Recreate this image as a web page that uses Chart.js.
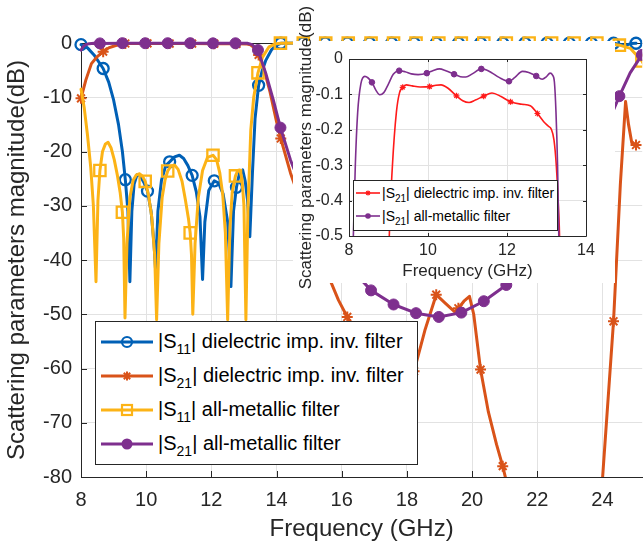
<!DOCTYPE html>
<html><head><meta charset="utf-8">
<script src="https://cdn.jsdelivr.net/npm/chart.js@4.4.1/dist/chart.umd.min.js"></script>
<style>
html,body{margin:0;padding:0;width:644px;height:550px;overflow:hidden;background:#fff;}
#wrap{position:relative;width:644px;height:550px;overflow:hidden;font-family:"Liberation Sans",Arial,Helvetica,sans-serif;}
#main{position:absolute;left:0;top:0;}
#inset{position:absolute;left:290px;top:0;}
.legend{position:absolute;background:#fff;border:1px solid #262626;box-sizing:border-box;}
.row{position:absolute;left:0;display:flex;align-items:center;white-space:nowrap;color:#000;}
.row svg{flex:none;display:block;}
.row sub{vertical-align:baseline;position:relative;line-height:0;}
#legMain .row{font-size:20px;height:34px;}
#legMain .row sub{font-size:14px;top:6px;}
#legInset .row{font-size:14px;height:22px;}
#legInset .row sub{font-size:10px;top:4px;}
</style></head>
<body><div id="wrap">
<canvas id="main" width="650" height="550"></canvas>
<canvas id="inset" width="330" height="290"></canvas>
<div id="legMain" class="legend" style="left:95px;top:321px;width:323px;height:144px;">
 <div class="row" style="top:2.5px"><svg width="62" height="34"><line x1="5" y1="17" x2="57" y2="17" stroke="#0060B6" stroke-width="3"/><circle cx="31" cy="17" r="5" fill="none" stroke="#0060B6" stroke-width="2.2"/></svg><span>|S<sub>11</sub>| dielectric imp. inv. filter</span></div>
 <div class="row" style="top:36.5px"><svg width="62" height="34"><line x1="5" y1="17" x2="57" y2="17" stroke="#D95319" stroke-width="3"/><path d="M26.5 17H35.5M31 12.5V21.5M27.8 13.8L34.2 20.2M34.2 13.8L27.8 20.2" stroke="#D95319" stroke-width="2"/></svg><span>|S<sub>21</sub>| dielectric imp. inv. filter</span></div>
 <div class="row" style="top:70.5px"><svg width="62" height="34"><line x1="5" y1="17" x2="57" y2="17" stroke="#FCB316" stroke-width="3"/><rect x="26" y="12" width="10" height="10" fill="none" stroke="#FCB316" stroke-width="2.2"/></svg><span>|S<sub>11</sub>| all-metallic filter</span></div>
 <div class="row" style="top:104.5px"><svg width="62" height="34"><line x1="5" y1="17" x2="57" y2="17" stroke="#7E2F8E" stroke-width="3"/><circle cx="31" cy="17" r="5.5" fill="#7E2F8E"/></svg><span>|S<sub>21</sub>| all-metallic filter</span></div>
</div>
<div id="legInset" class="legend" style="left:353px;top:180px;width:205px;height:51px;">
 <div class="row" style="top:0.7px"><svg width="28" height="22"><line x1="2" y1="11" x2="26" y2="11" stroke="#FF1A1A" stroke-width="1.6"/><path d="M11.5 11H16.5M14 8.5V13.5M12.2 9.2L15.8 12.8M15.8 9.2L12.2 12.8" stroke="#FF1A1A" stroke-width="1.2"/></svg><span>|S<sub>21</sub>| dielectric imp. inv. filter</span></div>
 <div class="row" style="top:24px"><svg width="28" height="22"><line x1="2" y1="11" x2="26" y2="11" stroke="#7E2F8E" stroke-width="1.6"/><circle cx="14" cy="11" r="2.8" fill="#7E2F8E"/></svg><span>|S<sub>21</sub>| all-metallic filter</span></div>
</div>
</div>
<script>
// ---------- data (frequency GHz, magnitude dB) ----------
const xTicks = [8, 10, 12, 14, 16, 18, 20, 22, 24];
const yTicks = [0, -10, -20, -30, -40, -50, -60, -70, -80];
const insetXTicks = [8, 10, 12, 14];
const insetYTicks = [0, -0.1, -0.2, -0.3, -0.4, -0.5];

const dielMarkerFreq = [8.00,8.68,9.36,10.04,10.72,11.41,12.09,12.77,13.45,14.13,14.81,15.49,16.17,16.85,17.53,18.22,18.90,19.58,20.26,20.94,21.62,22.30,22.98,23.66,24.34,25.03];
const metalMarkerFreq = [8.58,9.27,9.97,10.66,11.35,12.05,12.74,13.43,14.12,14.82,15.51,16.20,16.90,17.59,18.28,18.98,19.67,20.36,21.05,21.75,22.44,23.13,23.83,24.52,25.21];

const s11Diel = [[8.00,-0.3],[8.2,-0.9],[8.4,-2.2],[8.68,-4.7],[8.85,-7.2],[9.0,-10.5],[9.15,-15],[9.27,-20],[9.36,-25.2],[9.44,-31],[9.5,-44],[9.56,-31],[9.63,-26],[9.72,-24.3],[9.82,-24.5],[9.93,-25.7],[10.04,-27.3],[10.15,-31],[10.24,-37],[10.29,-42],[10.36,-31],[10.47,-25.3],[10.6,-22.6],[10.72,-21.9],[10.87,-21.0],[11.02,-20.7],[11.15,-21.3],[11.28,-22.6],[11.41,-24.4],[11.54,-27.5],[11.65,-32],[11.73,-43.6],[11.8,-33],[11.92,-27.2],[12.09,-25.4],[12.22,-25.8],[12.36,-27.8],[12.5,-33],[12.6,-44.9],[12.68,-31],[12.77,-26.6],[12.87,-23.8],[12.96,-23.4],[13.04,-25.5],[13.11,-29],[13.18,-35.7],[13.26,-24],[13.34,-14],[13.45,-7.8],[13.55,-5.3],[13.67,-3.2],[13.85,-1.2],[14.0,-0.4],[14.13,-0.05],[14.81,-0.02],[15.49,-0.02],[16.17,-0.02],[16.85,-0.02],[17.53,-0.02],[18.22,-0.02],[18.90,-0.02],[19.58,-0.02],[20.26,-0.02],[20.94,-0.02],[21.62,-0.02],[22.30,-0.02],[22.98,-0.02],[23.66,-0.02],[24.34,-0.05],[24.6,-0.3],[24.71,-0.45],[24.87,-0.1],[25.03,-0.05]];

const s21Diel = [[8.00,-10.2],[8.15,-6.8],[8.32,-3.8],[8.5,-2.5],[8.68,-1.6],[8.85,-0.9],[9.04,-0.5],[9.2,-0.25],[9.36,-0.09],[10.04,-0.08],[10.72,-0.1],[11.41,-0.11],[12.09,-0.12],[12.77,-0.15],[13.1,-0.2],[13.2,-0.35],[13.3,-0.8],[13.45,-2.2],[13.6,-4.5],[13.8,-9],[14.0,-14.5],[14.13,-17.6],[14.43,-24],[14.81,-30.5],[15.2,-37],[15.49,-41.5],[15.9,-47.4],[16.17,-50.5],[16.5,-54],[16.85,-57],[17.2,-60],[17.53,-62],[17.9,-63],[18.22,-60.5],[18.55,-53],[18.90,-46.4],[19.15,-47.8],[19.46,-49.5],[19.58,-48.9],[19.75,-47.6],[19.92,-46.7],[20.05,-50],[20.26,-60.2],[20.5,-68],[20.75,-74],[20.94,-78],[21.1,-82],[21.62,-90],[22.30,-97],[22.98,-99],[23.66,-90],[24.0,-80.5],[24.34,-51.3],[24.55,-26],[24.71,-10.8],[24.8,-15],[24.9,-18.4],[25.03,-18.8]];

const s11Metal = [[8.0,-8.5],[8.1,-12],[8.2,-17],[8.3,-23],[8.38,-30],[8.46,-44],[8.52,-29],[8.58,-23.5],[8.66,-20],[8.75,-18.6],[8.83,-18.3],[8.92,-19.3],[9.02,-21.5],[9.12,-24.5],[9.2,-27.5],[9.27,-31.2],[9.31,-36],[9.35,-50.7],[9.41,-37],[9.5,-28.5],[9.6,-25.3],[9.7,-24.3],[9.8,-24.1],[9.89,-24.6],[9.97,-25.5],[10.07,-28],[10.17,-32],[10.26,-39],[10.32,-51],[10.39,-37],[10.49,-28.5],[10.58,-25.2],[10.66,-23.6],[10.76,-22.7],[10.87,-22.5],[10.98,-23.3],[11.1,-25.5],[11.2,-28.8],[11.3,-32.5],[11.35,-35],[11.39,-39],[11.43,-50],[11.5,-37],[11.6,-28.5],[11.73,-23.5],[11.88,-21.1],[12.05,-20.7],[12.16,-21.5],[12.26,-24],[12.35,-28],[12.43,-35],[12.5,-51],[12.57,-34],[12.64,-27.5],[12.74,-24.5],[12.81,-23.5],[12.87,-23.4],[12.94,-25],[13.0,-30],[13.06,-51],[13.12,-31],[13.21,-16],[13.3,-10],[13.43,-5.5],[13.57,-2.6],[13.77,-0.7],[13.95,-0.2],[14.12,-0.03],[14.82,-0.02],[15.51,-0.02],[16.20,-0.02],[16.90,-0.02],[17.59,-0.02],[18.28,-0.02],[18.98,-0.02],[19.67,-0.02],[20.36,-0.02],[21.05,-0.02],[21.75,-0.02],[22.44,-0.02],[23.13,-0.02],[23.83,-0.02],[24.2,-0.1],[24.52,-0.4],[24.86,-1.0],[25.21,-3.3],[25.4,-5.5]];

const s21Metal = [[8.0,-1.3],[8.08,-0.6],[8.15,-0.3],[8.25,-0.12],[8.4,-0.05],[8.58,-0.07],[9.27,-0.03],[9.97,-0.04],[10.66,-0.04],[11.35,-0.03],[12.05,-0.06],[12.74,-0.05],[13.1,-0.05],[13.25,-0.3],[13.43,-1.3],[13.67,-5.6],[13.9,-10.5],[14.12,-15.6],[14.43,-21.6],[14.82,-27.5],[15.51,-35],[16.20,-41],[16.90,-45.6],[17.59,-48.2],[18.28,-49.8],[18.98,-50.5],[19.67,-49.7],[20.36,-47.6],[21.05,-44.6],[21.75,-40],[22.44,-34.5],[23.13,-27.5],[23.83,-19.5],[24.52,-9.8],[24.85,-5.5],[25.21,-2.2],[25.5,-0.8]];

const insetS21Diel = [[8.95,-0.9],[9.02,-0.5],[9.1,-0.3],[9.2,-0.15],[9.28,-0.095],[9.36,-0.08],[9.45,-0.073],[9.6,-0.076],[9.8,-0.079],[10.04,-0.078],[10.2,-0.074],[10.33,-0.073],[10.5,-0.082],[10.72,-0.104],[10.88,-0.118],[11.04,-0.123],[11.2,-0.116],[11.41,-0.105],[11.62,-0.096],[11.85,-0.106],[12.09,-0.121],[12.38,-0.128],[12.59,-0.132],[12.77,-0.154],[12.93,-0.177],[13.05,-0.19],[13.12,-0.198],[13.19,-0.229],[13.25,-0.304],[13.31,-0.437],[13.33,-0.5],[13.37,-0.8]];

const insetS21Metal = [[8.05,-0.9],[8.11,-0.5],[8.16,-0.3],[8.22,-0.15],[8.3,-0.07],[8.4,-0.049],[8.58,-0.066],[8.68,-0.088],[8.78,-0.101],[8.88,-0.095],[9.0,-0.07],[9.12,-0.043],[9.27,-0.033],[9.42,-0.036],[9.58,-0.042],[9.75,-0.044],[9.97,-0.04],[10.12,-0.033],[10.29,-0.028],[10.45,-0.033],[10.66,-0.043],[10.82,-0.05],[10.96,-0.051],[11.12,-0.042],[11.35,-0.028],[11.48,-0.031],[11.6,-0.038],[11.8,-0.052],[12.05,-0.063],[12.2,-0.052],[12.39,-0.035],[12.55,-0.038],[12.74,-0.048],[12.89,-0.057],[13.0,-0.05],[13.09,-0.04],[13.15,-0.045],[13.2,-0.065],[13.24,-0.15],[13.28,-0.3],[13.31,-0.49],[13.35,-0.8]];

// ---------- styling ----------
const FONT = '"Liberation Sans", Arial, Helvetica, sans-serif';
const AX = '#262626';
const GRID = '#e2e2e2';
const C = {blue:'#0060B6', orange:'#D95319', yellow:'#FCB316', purple:'#7E2F8E', red:'#FF1A1A'};

const toXY = arr => arr.map(p => ({x:p[0], y:p[1]}));
const isMarker = (list, x) => list.some(m => Math.abs(m - x) < 1e-6);

function series(pairs, color, style, markers, fill, r, pbw, bw, order, clip) {
  return {
    data: toXY(pairs), borderColor: color, borderWidth: bw, tension: 0,
    borderJoinStyle: 'round', borderCapStyle: 'round',
    pointStyle: style,
    pointRadius: ctx => (ctx.raw && isMarker(markers, ctx.raw.x)) ? r : 0,
    pointHoverRadius: 0, pointHitRadius: 0,
    pointBorderColor: color, pointBackgroundColor: fill, pointBorderWidth: pbw,
    order: order, clip: clip
  };
}
function fixedTicks(list){ return s => { s.ticks = list.map(v => ({value:v})); }; }

const mainClip = {left: 10, top: 10, right: 0, bottom: 0};
const mainDecor = {
  id:'mainDecor',
  beforeDatasetsDraw(chart){
    const {ctx, chartArea:a, scales} = chart;
    ctx.save(); ctx.strokeStyle = AX; ctx.lineWidth = 1; ctx.beginPath();
    ctx.moveTo(a.left, a.top + 0.5); ctx.lineTo(a.right, a.top + 0.5);
    for (const v of yTicks) { const y = Math.round(scales.y.getPixelForValue(v)) + 0.5; ctx.moveTo(a.left, y); ctx.lineTo(a.left + 6, y); }
    for (const v of xTicks) { const x = Math.round(scales.x.getPixelForValue(v)) + 0.5; ctx.moveTo(x, a.bottom); ctx.lineTo(x, a.bottom - 6); ctx.moveTo(x, a.top); ctx.lineTo(x, a.top + 6); }
    ctx.stroke(); ctx.restore();
  }
};

new Chart(document.getElementById('main'), {
  type: 'line',
  data: { datasets: [
    series(s11Diel, C.blue, 'circle', dielMarkerFreq, 'rgba(0,0,0,0)', 5.5, 2.3, 3, 3, mainClip),
    series(s21Diel, C.orange, 'star', dielMarkerFreq, C.orange, 5.5, 2, 3, 2, mainClip),
    series(s11Metal, C.yellow, 'rect', metalMarkerFreq, 'rgba(0,0,0,0)', 8, 2.3, 3, 1, mainClip),
    series(s21Metal, C.purple, 'circle', metalMarkerFreq, C.purple, 5.5, 1, 3, 0, mainClip)
  ]},
  options: {
    responsive: false, animation: false, devicePixelRatio: 1, events: [],
    layout: { padding: { left: 0, top: 43, right: 4, bottom: 0 } },
    plugins: { legend: { display: false }, tooltip: { enabled: false } },
    scales: {
      x: { type: 'linear', min: 8, max: 25.22,
        afterBuildTicks: fixedTicks(xTicks), afterFit: s => { s.height = 73; },
        grid: { color: GRID, drawTicks: false }, border: { color: AX, width: 1 },
        ticks: { padding: 11, color: AX, font: { size: 20, family: FONT }, maxRotation: 0, autoSkip: false, callback: v => String(v) },
        title: { display: true, text: 'Frequency (GHz)', color: AX, font: { size: 24, family: FONT }, padding: { top: 0, bottom: 6 } } },
      y: { type: 'linear', min: -80, max: 0,
        afterBuildTicks: fixedTicks(yTicks), afterFit: s => { s.width = 81; },
        grid: { color: GRID, drawTicks: false }, border: { color: AX, width: 1 },
        ticks: { padding: 9, color: AX, font: { size: 20, family: FONT }, autoSkip: false, callback: v => String(v) },
        title: { display: true, text: 'Scattering parameters magnitude(dB)', color: AX, font: { size: 24, family: FONT }, padding: { top: 3, bottom: 0 } } }
    }
  },
  plugins: [mainDecor]
});

const insetDecor = {
  id:'insetDecor',
  beforeDraw(chart){
    const ctx = chart.ctx; ctx.save(); ctx.fillStyle = '#fff'; ctx.fillRect(3, 41, 322, 242); ctx.restore();
  },
  beforeDatasetsDraw(chart){
    const {ctx, chartArea:a, scales} = chart;
    ctx.save(); ctx.strokeStyle = AX; ctx.lineWidth = 1; ctx.beginPath();
    ctx.rect(Math.round(a.left) + 0.5, Math.round(a.top) + 0.5, Math.round(a.right - a.left), Math.round(a.bottom - a.top));
    for (const v of insetYTicks) { const y = Math.round(scales.y.getPixelForValue(v)) + 0.5; ctx.moveTo(a.left, y); ctx.lineTo(a.left + 3, y); ctx.moveTo(a.right, y); ctx.lineTo(a.right - 3, y); }
    for (const v of insetXTicks) { const x = Math.round(scales.x.getPixelForValue(v)) + 0.5; ctx.moveTo(x, a.bottom); ctx.lineTo(x, a.bottom - 3); ctx.moveTo(x, a.top); ctx.lineTo(x, a.top + 3); }
    ctx.stroke(); ctx.restore();
  }
};

new Chart(document.getElementById('inset'), {
  type: 'line',
  data: { datasets: [
    Object.assign(series(insetS21Diel, C.red, 'star', dielMarkerFreq, C.red, 3, 1.2, 1.6, 1, 0), { cubicInterpolationMode: 'monotone' }),
    Object.assign(series(insetS21Metal, C.purple, 'circle', metalMarkerFreq, C.purple, 2.8, 1, 1.6, 0, 0), { cubicInterpolationMode: 'monotone' })
  ]},
  options: {
    responsive: false, animation: false, devicePixelRatio: 1, events: [],
    layout: { padding: { left: 0, top: 59, right: 34, bottom: 0 } },
    plugins: { legend: { display: false }, tooltip: { enabled: false } },
    scales: {
      x: { type: 'linear', min: 8, max: 14,
        afterBuildTicks: fixedTicks(insetXTicks), afterFit: s => { s.height = 54; },
        grid: { color: GRID, drawTicks: false }, border: { display: false },
        ticks: { padding: 5, color: AX, font: { size: 16, family: FONT }, maxRotation: 0, autoSkip: false, callback: v => String(v) },
        title: { display: true, text: 'Frequency (GHz)', color: AX, font: { size: 17, family: FONT }, padding: { top: 0, bottom: 8 } } },
      y: { type: 'linear', min: -0.5, max: 0,
        afterBuildTicks: fixedTicks(insetYTicks), afterFit: s => { s.width = 59; },
        grid: { color: GRID, drawTicks: false }, border: { display: false },
        ticks: { padding: 6, color: AX, font: { size: 16, family: FONT }, autoSkip: false, callback: v => (v === 0 ? '0' : v.toFixed(1)) },
        title: { display: true, text: 'Scattering parameters magnitude(dB)', color: AX, font: { size: 17, family: FONT }, padding: { top: 6, bottom: 0 } } }
    }
  },
  plugins: [insetDecor]
});
</script>
</body></html>
